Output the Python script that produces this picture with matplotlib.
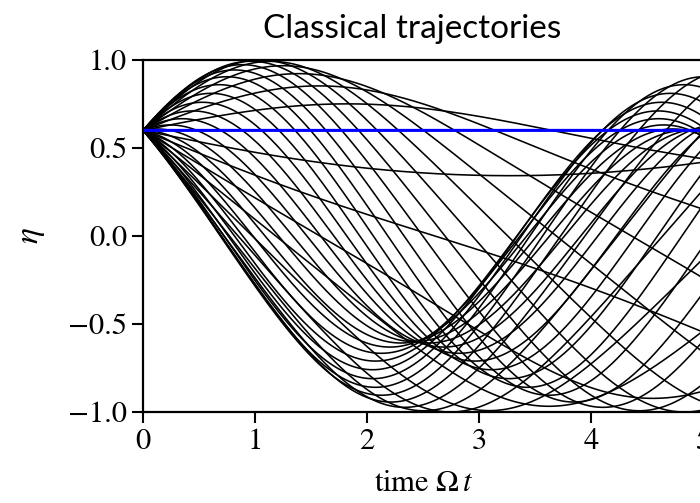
import numpy as np
import matplotlib.pyplot as plt

# spin on the Bloch sphere, H = Omega*sx + (lam/2)*Omega*sz^2
eta0 = 0.6          # initial population imbalance
lam = 1.25          # nonlinearity: eta=0.6 is then a stationary point (blue)
n_phase = 36        # number of initial phases
time_scale = 1.07   # ratio between plotted time axis and model time
t_max = 2 * np.pi
n_steps = 2000

xticks = [0, 1, 2, 3, 4, 5]
yticks = [-1.0, -0.5, 0.0, 0.5, 1.0]


def rhs(s):
    sx, sy, sz = s
    return np.array([-lam * sz * sy, lam * sz * sx - sz, sy])


def trajectory(phi):
    r = np.sqrt(1 - eta0**2)
    s = np.array([r * np.cos(phi), r * np.sin(phi), eta0])
    dt = t_max / n_steps
    out = [s[2]]
    for _ in range(n_steps):
        k1 = rhs(s)
        k2 = rhs(s + 0.5 * dt * k1)
        k3 = rhs(s + 0.5 * dt * k2)
        k4 = rhs(s + dt * k3)
        s = s + dt / 6 * (k1 + 2 * k2 + 2 * k3 + k4)
        out.append(s[2])
    return np.array(out)


t = np.linspace(0, t_max, n_steps + 1) * time_scale
phases = np.linspace(0, 2 * np.pi, n_phase, endpoint=False)

plt.rcParams['font.family'] = 'STIXGeneral'
plt.rcParams['mathtext.fontset'] = 'stix'

fig = plt.figure(figsize=(7, 5.03), dpi=100)
ax_w = t_max * 112 / 700
ax = fig.add_axes([143 / 700, 1 - 412 / 503, ax_w, 352 / 503])

for phi in phases[1:]:
    ax.plot(t, trajectory(phi), color='black', lw=1.15)
ax.plot(t, trajectory(phases[0]), color='blue', lw=2.2)

ax.set_xlim(0, t_max)
ax.set_ylim(-1, 1)
ax.set_xticks(xticks)
ax.set_yticks(yticks)
ax.tick_params(labelsize=22, length=8, width=1.5)
for sp in ax.spines.values():
    sp.set_linewidth(1.6)

ax.set_xlabel(r'time $\Omega\,t$', fontsize=22)
ax.xaxis.set_label_coords((424 - 143) / 700 / ax_w, -0.165)
ax.set_ylabel(r'$\eta$', fontsize=24, labelpad=15)

fig.text(412 / 700, 1 - 29 / 503, 'Classical trajectories', family='Lato',
         fontsize=24, ha='center', va='center')

fig.savefig('out.png', dpi=100)
